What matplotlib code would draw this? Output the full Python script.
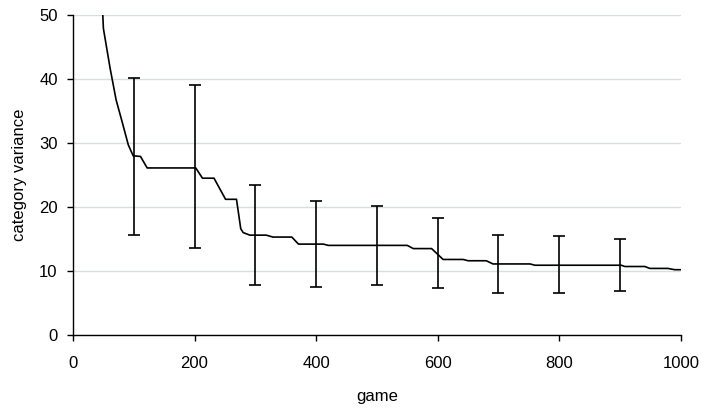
import matplotlib
matplotlib.use("Agg")
import matplotlib.pyplot as plt

plt.rcParams['font.family'] = ['Liberation Sans', 'DejaVu Sans']

# mean category variance over games
games = [49, 50, 61, 71, 80, 91, 99, 111, 122, 202, 213, 232, 251, 269, 276, 280, 291,
         318, 329, 360, 371, 412, 420, 550, 560, 590, 609, 642, 650, 680, 691, 752,
         760, 902, 908, 941, 949, 979, 990, 1000]
variance = [50.0, 47.9, 41.7, 36.7, 33.6, 29.7, 28.0, 27.9, 26.1, 26.1, 24.5, 24.5, 21.2,
            21.2, 16.6, 16.0, 15.6, 15.6, 15.3, 15.3, 14.2, 14.2, 14.0, 14.0, 13.5, 13.5,
            11.8, 11.8, 11.6, 11.6, 11.1, 11.1, 10.9, 10.9, 10.7, 10.7, 10.4, 10.4,
            10.2, 10.2]

# standard deviation at every 100 games
err_games = [100, 200, 300, 400, 500, 600, 700, 800, 900]
err_mean = [27.9, 26.3, 15.6, 14.2, 14.0, 12.8, 11.1, 11.0, 10.95]
err_sd = [12.3, 12.75, 7.85, 6.7, 6.2, 5.5, 4.5, 4.4, 4.05]

fig = plt.figure(figsize=(7.04, 4.13), dpi=100)
ax = fig.add_axes([0.1037, 0.1889, 0.8633, 0.7748])

ax.plot(games, variance, color='black', lw=1.2)
ax.errorbar(err_games, err_mean, yerr=err_sd, fmt='none', ecolor='black',
            elinewidth=1.2, capsize=4, capthick=1.2)

ax.set_xlim(0, 1000)
ax.set_ylim(0, 50)
ax.set_xticks(range(0, 1001, 200))
ax.set_yticks(range(0, 51, 10))
ax.grid(axis='y', color='#d8dddd', lw=1)
ax.set_axisbelow(True)

for side in ['top', 'right']:
    ax.spines[side].set_visible(False)
for side in ['left', 'bottom']:
    ax.spines[side].set_linewidth(1)
ax.tick_params(direction='out', length=4, width=1, labelsize=12)
ax.tick_params(axis='y', pad=7)
ax.tick_params(axis='x', pad=11)

ax.set_xlabel('game', fontsize=12, labelpad=13)
ax.set_ylabel('category variance', fontsize=12, labelpad=9)

fig.savefig('out.png', dpi=100)
